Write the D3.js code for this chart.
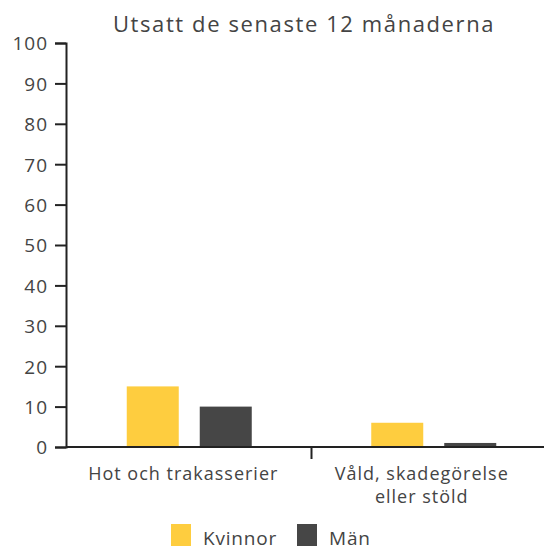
<!DOCTYPE html>
<html>
<head>
<meta charset="utf-8">
<script src="https://cdn.jsdelivr.net/npm/d3@7"></script>
<style>
  body { margin: 0; background: #fff; }
  text { font-family: "Open Sans", sans-serif; fill: #444; }
</style>
</head>
<body>
<div id="chart"></div>
<script>
// data
var categories = ["Hot och trakasserier", "Våld, skadegörelse|eller stöld"];
var series = ["Kvinnor", "Män"];
var kvinnor = [15, 6];
var man = [10, 1];
var yTicks = [0, 10, 20, 30, 40, 50, 60, 70, 80, 90, 100];
var colors = ["#FECD3F", "#464646"];

var width = 544, height = 546;
var svg = d3.select("#chart").append("svg")
    .attr("width", width)
    .attr("height", height);

var x = d3.scaleBand().domain(categories).range([67, 556]);
var y = d3.scaleLinear().domain([0, 100]).range([447, 43]);

var rows = categories.map(function (c, i) {
  return { cat: c, values: [kvinnor[i], man[i]] };
});

// bars
var g = svg.selectAll("g.group")
    .data(rows)
    .enter()
    .append("g")
    .attr("class", "group");

var barW = 52, gap = 21;
g.selectAll("rect")
    .data(function (d) { return d.values.map(function (v, j) { return { cat: d.cat, v: v, j: j }; }); })
    .enter()
    .append("rect")
    .attr("x", function (d) {
      var c = x(d.cat) + x.bandwidth() / 2;
      return d.j === 0 ? c - gap / 2 - barW : c + gap / 2;
    })
    .attr("y", function (d) { return y(d.v); })
    .attr("width", barW)
    .attr("height", function (d) { return y(0) - y(d.v); })
    .style("fill", function (d) { return colors[d.j]; });

// y axis
var yAxis = svg.append("g")
    .attr("transform", "translate(66,0)")
    .call(d3.axisLeft(y).tickValues(yTicks).tickSize(11).tickPadding(7));
yAxis.select(".domain").attr("stroke", "#222").attr("stroke-width", 2);
yAxis.selectAll(".tick line").attr("stroke", "#222").attr("stroke-width", 2);
yAxis.selectAll(".tick text")
    .style("font-size", "19px")
    .style("letter-spacing", "1px")
    .style("fill", "#444")
    .attr("dy", "0.36em");

// x axis
var xAxis = svg.append("g")
    .attr("transform", "translate(0,447)");
xAxis.append("line")
    .attr("x1", 66).attr("x2", width)
    .attr("stroke", "#222").attr("stroke-width", 2);
xAxis.append("line")
    .attr("x1", x(categories[1])).attr("x2", x(categories[1]))
    .attr("y1", 0).attr("y2", 12)
    .attr("stroke", "#222").attr("stroke-width", 2);

// labels sit in the middle of the visible part of each band
function labelX(d) {
  var a = Math.max(x(d), 66), b = Math.min(x(d) + x.bandwidth(), width);
  return (a + b) / 2 - 6;
}

xAxis.selectAll("text.cat")
    .data(categories)
    .enter()
    .append("text")
    .attr("class", "cat")
    .attr("text-anchor", "middle")
    .attr("x", labelX)
    .attr("y", 33)
    .style("font-size", "18px")
    .style("letter-spacing", "1px")
    .each(function (d) {
      var parts = d.split("|");
      var t = d3.select(this);
      parts.forEach(function (p, i) {
        t.append("tspan")
          .attr("x", labelX(d))
          .attr("dy", i === 0 ? 0 : 23)
          .text(p);
      });
    });

// title
svg.append("text")
    .attr("x", 304)
    .attr("y", 32)
    .attr("text-anchor", "middle")
    .style("font-size", "22px")
    .style("letter-spacing", "1.6px")
    .text("Utsatt de senaste 12 månaderna");

// legend
var legendX = [171, 297];
var legend = svg.selectAll("g.legend")
    .data(series)
    .enter()
    .append("g")
    .attr("class", "legend")
    .attr("transform", function (d, i) { return "translate(" + legendX[i] + ",524)"; });
legend.append("rect")
    .attr("width", 20).attr("height", 22)
    .style("fill", function (d, i) { return colors[i]; });
legend.append("text")
    .attr("x", 32).attr("y", 21)
    .style("font-size", "19px")
    .style("letter-spacing", "0.8px")
    .text(function (d) { return d; });
</script>
</body>
</html>
